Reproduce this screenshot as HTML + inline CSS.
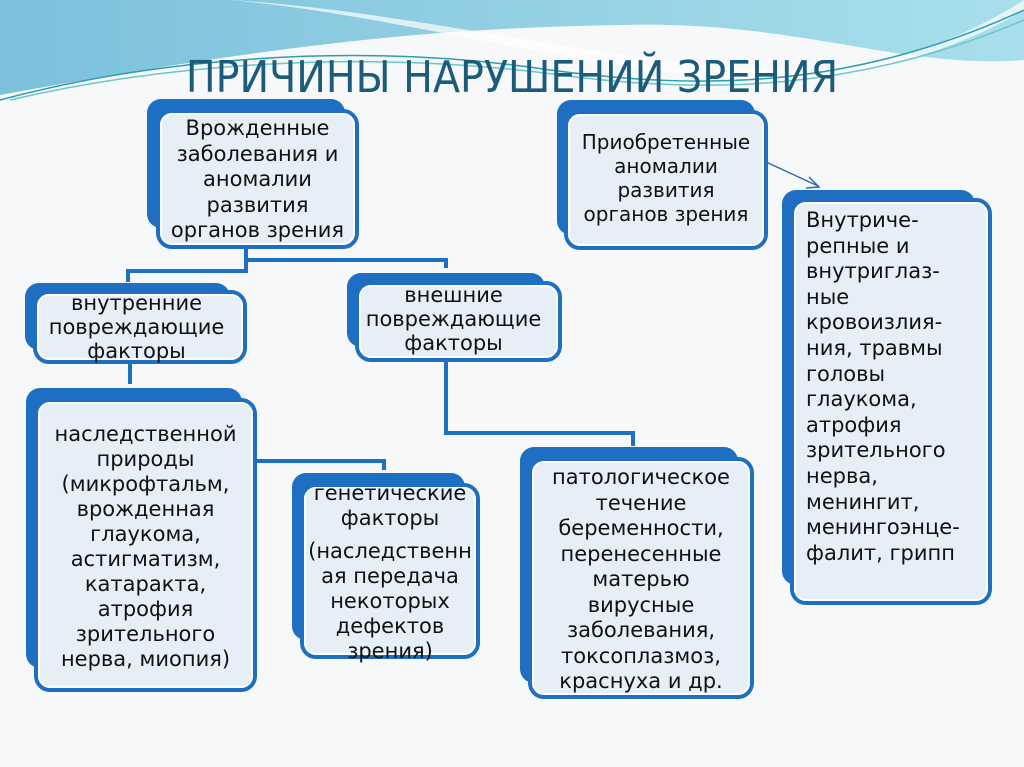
<!DOCTYPE html>
<html><head><meta charset="utf-8"><style>
body{margin:0;width:1024px;height:767px;overflow:hidden;background:#f7f8fa;position:relative;font-family:"DejaVu Sans","Liberation Sans",sans-serif}
.t{position:absolute;text-align:center;font-size:21px;line-height:25.5px;color:#111;white-space:nowrap}
</style></head><body>
<svg width="1024" height="767" style="position:absolute;left:0;top:0">
<defs><linearGradient id="g" x1="0" x2="1"><stop offset="0" stop-color="#7cc0dc"/><stop offset="1" stop-color="#a9dfec"/></linearGradient></defs>
<path d="M0 0H1024V60C900 70 800 20 620 25 450 28 300 40 0 95Z" fill="url(#g)"/>
<path d="M230 0C400 10 600 60 760 70 880 75 960 40 1024 0V10C950 55 850 80 760 80 600 75 400 15 230 0Z" fill="#ffffff" opacity=".7"/>
<path d="M0 100C150 60 350 40 550 70 700 90 850 90 1024 10" stroke="#2a9fb0" stroke-width="1.5" fill="none"/>
<path d="M10 100C160 65 360 48 560 75 710 95 860 90 1024 20" stroke="#6cc6c8" stroke-width="1.5" fill="none"/>
<g fill="none" stroke="#1e6fbf" stroke-width="4">
<path d="M246 248V260H446V268"/><path d="M246 260V271H128V282"/>
<path d="M130 362V384"/><path d="M446 360V433H633V446"/><path d="M256 461H384V470"/>
</g>
<path d="M766 162L818 186" stroke="#2c6ab0" stroke-width="1.5"/><path d="M809 177L819 187 806 188" stroke="#2c6ab0" stroke-width="1.5" fill="none"/>
<g id="boxes"></g>
</svg>
<script>
var B=[[147,99,345,228,158,111,357,247],[557,100,755,235,566,112,766,248],[782,190,975,585,792,200,990,603],[25,283,230,350,35,292,245,362],[347,273,545,347,357,283,560,360],[26,388,242,668,36,400,255,690],[292,473,465,640,302,485,478,657],[520,447,738,683,530,459,752,697]];
var s='';B.forEach(function(b){s+='<rect x="'+b[0]+'" y="'+b[1]+'" width="'+(b[2]-b[0])+'" height="'+(b[3]-b[1])+'" rx="14" fill="#1e6fc2"/>';s+='<rect x="'+b[4]+'" y="'+b[5]+'" width="'+(b[6]-b[4])+'" height="'+(b[7]-b[5])+'" rx="14" fill="#e6eff8" stroke="#1e6fc2" stroke-width="4"/>';s+='<rect x="'+(b[4]+3)+'" y="'+(b[5]+3)+'" width="'+(b[6]-b[4]-6)+'" height="'+(b[7]-b[5]-6)+'" rx="11" fill="none" stroke="#fff" stroke-width="2"/>';});
document.getElementById('boxes').innerHTML=s;
</script>
<div style="position:absolute;left:0;width:1024px;top:52px;text-align:center;font-size:44px;color:#1c5c7a;font-family:'DejaVu Sans Condensed','DejaVu Sans',sans-serif">ПРИЧИНЫ НАРУШЕНИЙ ЗРЕНИЯ</div>
<div class="t" style="left:158px;width:199px;top:116px">Врожденные<br>заболевания и<br>аномалии<br>развития<br>органов зрения</div>
<div class="t" style="left:566px;width:200px;top:130px;font-size:20px;line-height:24px">Приобретенные<br>аномалии<br>развития<br>органов зрения</div>
<div class="t" style="left:806px;width:180px;top:208px;text-align:left;line-height:25.6px">Внутриче-<br>репные и<br>внутриглаз-<br>ные<br>кровоизлия-<br>ния, травмы<br>головы<br>глаукома,<br>атрофия<br>зрительного<br>нерва,<br>менингит,<br>менингоэнце-<br>фалит, грипп</div>
<div class="t" style="left:28px;width:217px;top:291px;line-height:24px">внутренние<br>повреждающие<br>факторы</div>
<div class="t" style="left:347px;width:213px;top:283px;line-height:24px">внешние<br>повреждающие<br>факторы</div>
<div class="t" style="left:36px;width:219px;top:422px;line-height:25px">наследственной<br>природы<br>(микрофтальм,<br>врожденная<br>глаукома,<br>астигматизм,<br>катаракта,<br>атрофия<br>зрительного<br>нерва, миопия)</div>
<div class="t" style="left:302px;width:176px;top:481px;line-height:25px">генетические<br>факторы<br><span style="display:block;height:8px"></span>(наследственн<br>ая передача<br>некоторых<br>дефектов<br>зрения)</div>
<div class="t" style="left:530px;width:222px;top:465px;line-height:25.5px">патологическое<br>течение<br>беременности,<br>перенесенные<br>матерью<br>вирусные<br>заболевания,<br>токсоплазмоз,<br>краснуха и др.</div>
</body></html>
